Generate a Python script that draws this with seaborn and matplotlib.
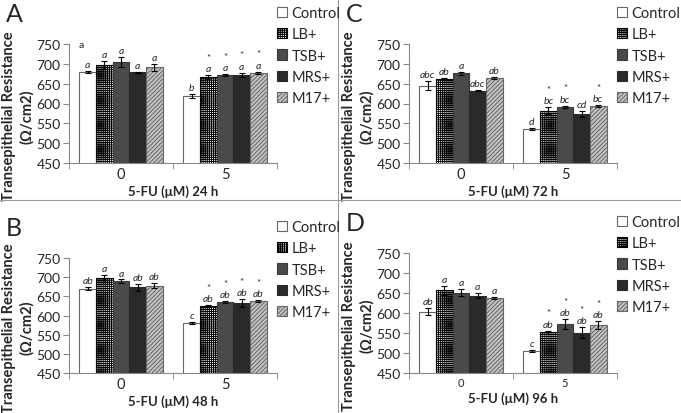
import numpy as np
import pandas as pd
import seaborn as sns
import matplotlib.pyplot as plt
from matplotlib.lines import Line2D

# Data
groups = ['Control', 'LB+', 'TSB+', 'MRS+', 'M17+']
doses = ['0', '5']

# order: dose 0 (5 groups), then dose 5 (5 groups)
mean_24h = [680, 697, 705, 679, 691, 620, 666, 672, 672, 677]
err_24h = [3, 10, 12, 1, 8, 5, 5, 2, 5, 3]
letters_24h = ['a', 'a', 'a', 'a', 'a', 'b', 'a', 'a', 'a', 'a']
stars_24h = [0, 0, 0, 0, 0, 0, 1, 1, 1, 1]

mean_48h = [670, 697, 689, 674, 678, 581, 624, 635, 632, 637]
err_48h = [4, 9, 5, 9, 6, 3, 3, 3, 10, 3]
letters_48h = ['ab', 'a', 'a', 'ab', 'ab', 'c', 'ab', 'ab', 'ab', 'ab']
stars_48h = [0, 0, 0, 0, 0, 0, 1, 1, 1, 1]

mean_72h = [645, 662, 676, 632, 665, 536, 582, 591, 574, 593]
err_72h = [12, 2, 4, 1, 2, 2, 9, 3, 8, 3]
letters_72h = ['abc', 'ab', 'a', 'abc', 'ab', 'd', 'bc', 'bc', 'cd', 'bc']
stars_72h = [0, 0, 0, 0, 0, 0, 1, 1, 0, 1]

mean_96h = [603, 657, 651, 643, 638, 505, 552, 572, 551, 570]
err_96h = [9, 11, 8, 6, 2, 3, 4, 12, 13, 9]
letters_96h = ['ab', 'a', 'a', 'a', 'a', 'c', 'ab', 'ab', 'ab', 'ab']
stars_96h = [0, 0, 0, 0, 0, 0, 1, 1, 1, 1]

yticks = [450, 500, 550, 600, 650, 700, 750]

# bar styles: facecolor, edgecolor, hatch
styles = [
    ('white', '#666666', ''),
    ('white', 'black', '++++++++'),
    ('#4a4a4a', '#3a3a3a', ''),
    ('#2a2a2a', '#2a2a2a', ''),
    ('#c4c4c4', '#666666', '////////'),
]

sns.set_style('ticks')
plt.rcParams['font.family'] = ['Lato', 'DejaVu Sans']
plt.rcParams['hatch.linewidth'] = 0.7

W, H = 681, 414
fig = plt.figure(figsize=(W / 100, H / 100), dpi=100)

panels = [
    ('A', '24 h', mean_24h, err_24h, letters_24h, stars_24h, (69, 45, 164), 10.5),
    ('C', '72 h', mean_72h, err_72h, letters_72h, stars_72h, (409, 45, 164), 10.5),
    ('B', '48 h', mean_48h, err_48h, letters_48h, stars_48h, (69, 259, 374), 10.5),
    ('D', '96 h', mean_96h, err_96h, letters_96h, stars_96h, (409, 254, 374), 8),
]

for tag, hours, means, errs, letters, stars, (x0, ytop, ybot), xfs in panels:
    ax = fig.add_axes([x0 / W, 1 - ybot / H, 208 / W, (ybot - ytop) / H])
    df = pd.DataFrame({
        'dose': np.repeat(doses, len(groups)),
        'group': groups * len(doses),
        'value': means,
        'err': errs,
    })
    sns.barplot(data=df, x='dose', y='value', hue='group', order=doses,
                hue_order=groups, width=0.8, errorbar=None, ax=ax,
                legend=False)

    bar_groups = list(ax.containers)
    for gi, cont in enumerate(bar_groups):
        fc, ec, hatch = styles[gi]
        for di, bar in enumerate(cont):
            bar.set_facecolor(fc)
            bar.set_edgecolor(ec)
            bar.set_hatch(hatch)
            bar.set_linewidth(0.8)
            k = di * len(groups) + gi
            xc = bar.get_x() + bar.get_width() / 2
            top = bar.get_height() + errs[k]
            ax.errorbar(xc, bar.get_height(), yerr=errs[k], color='black',
                        lw=0.8, capsize=2, capthick=0.8)
            ax.text(xc, top + 5, letters[k], ha='center', va='bottom',
                    fontsize=7.5, style='italic')
            if stars[k]:
                ax.text(xc, top + 34, '*', ha='center', va='bottom',
                        fontsize=7)

    if tag == 'A':
        ax.text(0.06, 1.0, 'a', transform=ax.transAxes, ha='center',
                va='center', fontsize=7.5)

    ax.set_ylim(450, 750)
    ax.set_xlim(-0.5, 1.5)
    ax.set_yticks(yticks)
    ax.tick_params(axis='y', labelsize=10, length=4, color='#888888', pad=2)
    ax.tick_params(axis='x', which='major', length=0, labelsize=xfs, pad=3)
    ax.set_xticks([-0.5, 0.5, 1.5], minor=True)
    ax.tick_params(axis='x', which='minor', length=4, color='#888888')
    sns.despine(ax=ax)
    for s in ['left', 'bottom']:
        ax.spines[s].set_color('#888888')
    ax.set_ylabel('Transepithelial Resistance\n(Ω/cm2)', fontsize=10.5,
                  fontweight='bold', linespacing=1.25)
    ax.yaxis.set_label_coords(-0.17, 0.40)
    ax.set_xlabel('5-FU (μM) ' + hours, fontsize=9.5, fontweight='bold',
                  labelpad=2)

    handles = [plt.Rectangle((0, 0), 1, 1, facecolor=fc, edgecolor=ec,
                             hatch=h, lw=0.8) for fc, ec, h in styles]
    fig.legend(handles, groups, loc='upper left',
               bbox_to_anchor=((x0 + 208) / W, 1 - (ytop - 38) / H),
               bbox_transform=fig.transFigure, frameon=False,
               fontsize=10.5, handlelength=0.7, handleheight=0.7,
               handletextpad=0.3, labelspacing=0.5, borderaxespad=0,
               borderpad=0)

    fig.text((x0 - 63) / W, 1 - (ytop - 30) / H, tag, fontsize=18,
             ha='left', va='center')

# panel dividers
fig.add_artist(Line2D([338 / W, 338 / W], [0, 1], color='#999999', lw=0.8))
fig.add_artist(Line2D([0, 1], [1 - 201 / H, 1 - 201 / H], color='#999999',
                      lw=0.8))

fig.savefig('out.png', dpi=100)
